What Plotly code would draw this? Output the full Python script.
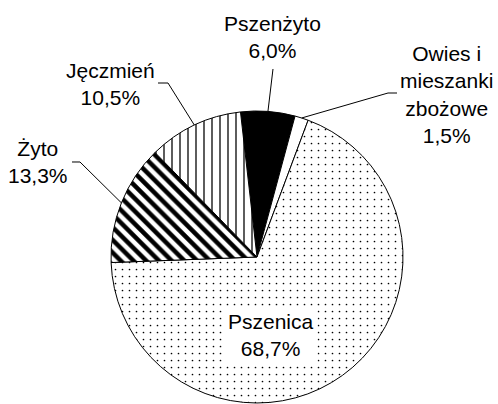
import math
import plotly.graph_objects as go

# data (udział w powierzchni zasiewów zbóż, %)
crops = ["Pszenżyto", "Owies i<br>mieszanki<br>zbożowe", "Pszenica", "Żyto", "Jęczmień"]
shares = [6.0, 1.5, 68.7, 13.3, 10.5]

W, H = 498, 404
CX, CY, R = 257, 257, 146   # pie centre and radius in pixels
ROT = -6.5                  # first slice starts a bit left of 12 o'clock

# fills: black / white / dots / diagonal stripes / vertical dashes
colors = ["black", "white", "white", "white", "white"]
shapes_ = ["", "", ".", "\\", "|"]
sizes = [8, 8, 7, 9, 8]
solid = [0.3, 0.3, 0.045, 0.5, 0.16]

# label block centres (px) and leader line starting points (px)
label_pos = [(272, 37), (446, 94), (271, 335), (38, 162), (110, 84)]
leader_start = [[(273, 69)], [(397, 93), (388, 93)], None,
                [(72, 162), (80, 162)], [(158, 83), (168, 83)]]


def px(x):
    return x / W


def py(y):
    return 1 - y / H


fig = go.Figure()

fig.add_trace(go.Pie(
    labels=[c.replace("<br>", " ") for c in crops],
    values=shares,
    sort=False,
    direction="clockwise",
    rotation=ROT,
    textinfo="none",
    hoverinfo="label+percent",
    showlegend=False,
    marker=dict(
        colors=colors,
        line=dict(color="black", width=1),
        pattern=dict(shape=shapes_, size=sizes, solidity=solid,
                     fgcolor="black", fgopacity=1, fillmode="overlay"),
    ),
    domain=dict(x=[px(CX - R), px(CX + R)], y=[py(CY + R), py(CY - R)]),
))

# labels + leader lines
total = sum(shares)
start = ROT
annotations = []
shapes = []
for i, (name, v) in enumerate(zip(crops, shares)):
    mid = start + v / total * 360 / 2
    start += v / total * 360
    ex = CX + R * math.sin(math.radians(mid))
    ey = CY - R * math.cos(math.radians(mid))
    txt = name + "<br>" + f"{v:.1f}".replace(".", ",") + "%"
    lx, ly = label_pos[i]
    annotations.append(dict(
        x=px(lx), y=py(ly), xref="paper", yref="paper",
        text=txt, showarrow=False, xanchor="center", yanchor="middle",
        font=dict(family="Arial, Liberation Sans", size=21, color="black"),
        bgcolor="white" if leader_start[i] is None else None,
        borderpad=3,
    ))
    if leader_start[i] is not None:
        pts = leader_start[i] + [(ex, ey)]
        path = "M " + " L ".join(f"{px(x):.5f},{py(y):.5f}" for x, y in pts)
        shapes.append(dict(type="path", path=path, xref="paper", yref="paper",
                           line=dict(color="black", width=1)))

fig.update_layout(
    width=W, height=H,
    margin=dict(l=0, r=0, t=0, b=0),
    paper_bgcolor="white",
    plot_bgcolor="white",
    showlegend=False,
    annotations=annotations,
    shapes=shapes,
)

fig.write_html("out.html", config={"displayModeBar": False},
               post_script="document.body.style.margin='0';")
